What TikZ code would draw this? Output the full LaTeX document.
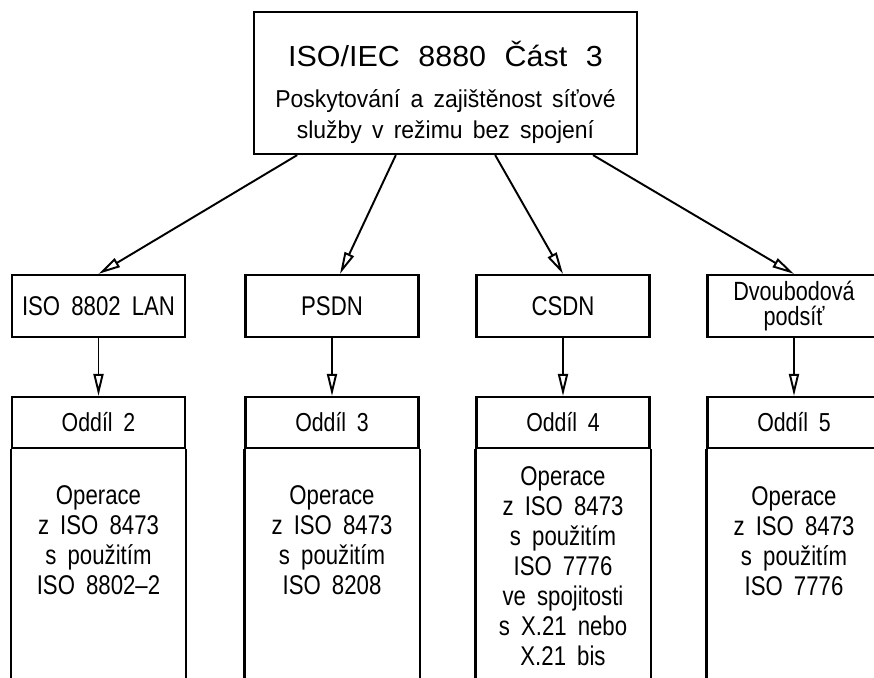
\documentclass[tikz,border=0pt]{standalone}
\usepackage{fontspec}
\setmainfont{Liberation Sans}[FakeStretch=0.82,WordSpace=1.8]
\newfontfamily\titlefont{Liberation Sans}[FakeStretch=1.05,WordSpace=2.2]
\newfontfamily\subfont{Liberation Sans}[FakeStretch=0.94,WordSpace=1.6]
\usetikzlibrary{arrows.meta,calc,positioning}

\tikzset{
  box/.style={draw, line width=1.25pt, minimum width=3.46cm, inner sep=0pt, align=center},
  net/.style={box, minimum height=1.24cm, font=\fontsize{15.4}{17}\selectfont},
  sec/.style={box, minimum height=1.02cm, font=\fontsize{14.8}{17}\selectfont},
  ops/.style={align=center, font=\fontsize{15.4}{17.1}\selectfont},
  arr/.style={line width=1.1pt, -{Triangle[open,length=4.4mm,width=2mm]}},
}

\begin{document}
\begin{tikzpicture}
    \useasboundingbox (0,0) rectangle (17.48,-13.56);
    \clip (0,0) rectangle (17.48,-13.56);

    % Part 3
    \node[box, minimum width=7.66cm, minimum height=2.84cm] (top) at (8.91,-1.66) {};
    \node[align=center, font=\subfont\fontsize{13.9}{17.6}\selectfont] (title) at (8.91,-1.84)
        {{\titlefont\fontsize{16.5}{17.6}\selectfont ISO/IEC 8880 Část 3}\\[5.7pt]
         Poskytování a zajištěnost síťové\\služby v režimu bez spojení};

    % Subnetworks
    \node[net] (lan)  at (1.97,-6.12) {ISO 8802 LAN};
    \node[net] (psdn) at (6.64,-6.12) {PSDN};
    \node[net] (csdn) at (11.26,-6.12) {CSDN};
    \node[net, font=\fontsize{15}{14.6}\selectfont] (ptp) at (15.88,-6.12) {Dvoubodová\\podsíť};

    % Sections
    \node[sec] (sec2) at (1.97,-8.45) {Oddíl 2};
    \node[sec] (sec3) at (6.64,-8.45) {Oddíl 3};
    \node[sec] (sec4) at (11.26,-8.45) {Oddíl 4};
    \node[sec] (sec5) at (15.88,-8.45) {Oddíl 5};
    \foreach \s in {sec2,sec3,sec4,sec5}
        \draw[line width=1.25pt] (\s.south west) -- ++(0,-5) (\s.south east) -- ++(0,-5);

    % Operations
    \node[ops] (ops2) at (1.97,-10.8) {Operace\\z ISO 8473\\s použitím\\ISO 8802--2};
    \node[ops] (ops3) at (6.64,-10.8) {Operace\\z ISO 8473\\s použitím\\ISO 8208};
    \node[ops] (ops4) at (11.26,-11.32) {Operace\\z ISO 8473\\s použitím\\ISO 7776\\ve spojitosti\\s X.21 nebo\\X.21 bis};
    \node[ops] (ops5) at (15.88,-10.82) {Operace\\z ISO 8473\\s použitím\\ISO 7776};

    % Arrows
    \draw[arr] ($(top.south west)!0.115!(top.south east)$) -- (lan.north);
    \draw[arr] ($(top.south west)!0.371!(top.south east)$) -- ($(psdn.north)+(0.16,0)$);
    \draw[arr] ($(top.south west)!0.629!(top.south east)$) -- (csdn.north);
    \draw[arr] ($(top.south west)!0.883!(top.south east)$) -- (ptp.north);
    \foreach \a/\b in {lan/sec2,psdn/sec3,csdn/sec4,ptp/sec5}
        \draw[arr] (\a.south) -- (\b.north);
\end{tikzpicture}
\end{document}
